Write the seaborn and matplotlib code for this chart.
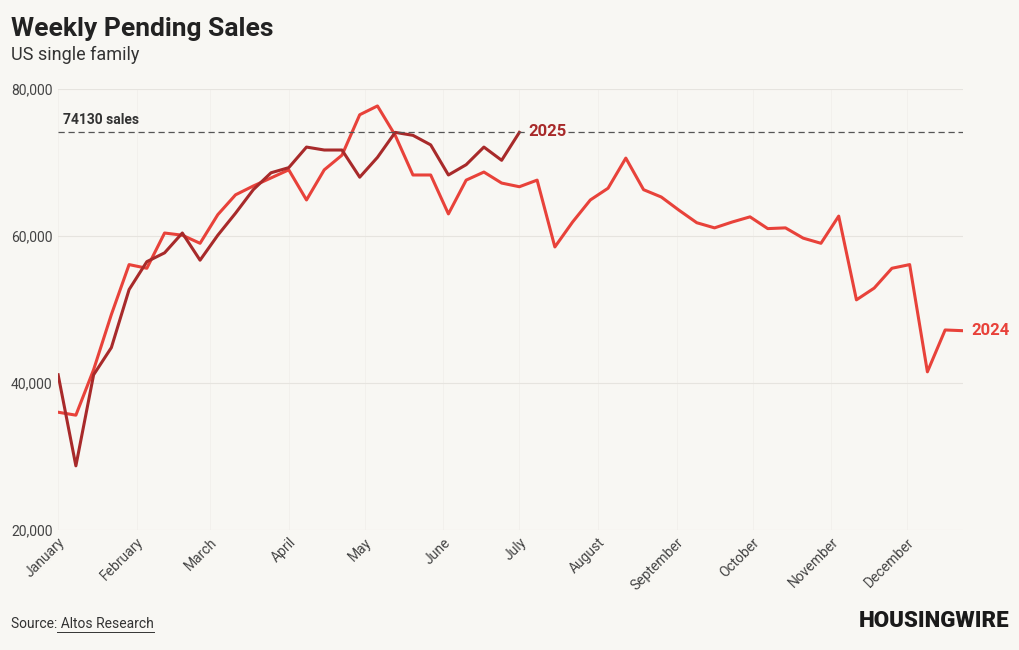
import numpy as np
import pandas as pd
import matplotlib.pyplot as plt
import seaborn as sns

# weekly pending sales
sales_2024 = [36000, 35600, 41800, 49300, 56100, 55600, 60400, 60100, 59000, 62900,
              65600, 66800, 67900, 69000, 64900, 69000, 71000, 76500, 77700, 73700,
              68300, 68300, 63000, 67600, 68700, 67200, 66700, 67600, 58500, 61900,
              64900, 66500, 70600, 66300, 65300, 63500, 61800, 61100, 61900, 62600,
              61000, 61100, 59700, 59000, 62700, 51300, 52900, 55600, 56100, 41500,
              47200, 47100]
sales_2025 = [41100, 28700, 41100, 44800, 52700, 56500, 57700, 60400, 56700, 60100,
              63100, 66300, 68600, 69300, 72100, 71700, 71700, 68000, 70700, 74100,
              73700, 72400, 68300, 69700, 72100, 70300, 74100]
months = ["January", "February", "March", "April", "May", "June", "July",
          "August", "September", "October", "November", "December"]
month_start_days = [0, 31, 60, 91, 121, 152, 182, 213, 244, 274, 305, 335]
ref_value = 74130

bg = "#f8f7f3"
c24 = "#e8423a"
c25 = "#a82a2a"
plt.rcParams["font.family"] = "Roboto"

df = pd.concat([
    pd.DataFrame({"week": range(len(sales_2024)), "sales": sales_2024, "year": "2024"}),
    pd.DataFrame({"week": range(len(sales_2025)), "sales": sales_2025, "year": "2025"}),
])

fig = plt.figure(figsize=(10.2, 6.5), dpi=100)
fig.set_facecolor(bg)
ax = fig.add_axes([0.057, 0.185, 0.887, 0.678])
ax.set_facecolor(bg)

sns.lineplot(data=df, x="week", y="sales", hue="year", palette={"2024": c24, "2025": c25},
             linewidth=2.2, legend=False, ax=ax)
ax.axhline(ref_value, color="#555555", lw=0.9, ls=(0, (5, 3)))
ax.text(0.3, ref_value + 700, f"{ref_value} sales", fontsize=10, fontweight="bold",
        color="#333333", va="bottom")
ax.text(len(sales_2025) - 1 + 0.5, sales_2025[-1] + 150, "2025", color=c25, fontsize=12,
        fontweight="bold", va="center",
        bbox=dict(facecolor=bg, edgecolor="none", pad=1))
ax.text(len(sales_2024) - 1 + 0.5, sales_2024[-1], "2024", color=c24, fontsize=12,
        fontweight="bold", va="center")

ax.set_xlim(0, 51)
ax.set_ylim(20000, 80000)
ax.set_yticks([20000, 40000, 60000, 80000])
ax.set_yticklabels([f"{v:,}" for v in [20000, 40000, 60000, 80000]], fontsize=10, color="#444444")
ax.set_xticks([d / 7 for d in month_start_days])
ax.set_xticklabels(months, rotation=45, ha="right", rotation_mode="anchor", fontsize=10, color="#444444")
ax.grid(axis="y", color="#e6e4df", lw=0.8)
ax.grid(axis="x", color="#f0eee9", lw=0.5)
ax.set_xlabel("")
ax.set_ylabel("")
for s in ax.spines.values():
    s.set_visible(False)
ax.tick_params(length=0, pad=4)

fig.text(0.011, 0.955, "Weekly Pending Sales", fontsize=19, fontweight="bold", color="#222222", va="center")
fig.text(0.011, 0.915, "US single family", fontsize=13, color="#333333", va="center")
fig.text(0.011, 0.04, "Source: Altos Research", fontsize=10, color="#333333", va="center")
fig.add_artist(plt.Line2D([0.0555, 0.151], [0.027, 0.027], color="#333333", lw=0.7))
fig.text(0.99, 0.045, "HOUSINGWIRE", fontsize=16, fontweight="black", color="#1a1a1a", ha="right", va="center")

fig.savefig("out.png", dpi=100, facecolor=bg)
